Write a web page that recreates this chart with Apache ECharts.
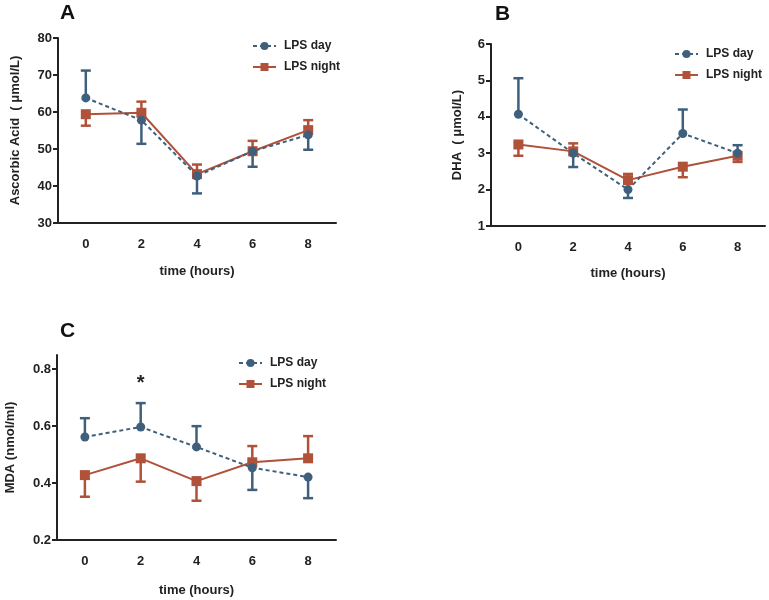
<!DOCTYPE html>
<html><head><meta charset="utf-8">
<script src="https://cdn.jsdelivr.net/npm/echarts@6/dist/echarts.min.js"></script>
<style>html,body{margin:0;padding:0;background:#fff}#c{width:769px;height:600px}</style>
</head><body><div id="c"></div>
<script>
const hours = ['0','2','4','6','8'];
// Panel A: Ascorbic Acid (µmol/L)
const aDay = [63.8, 57.8, 42.7, 49.4, 53.8];
const aDayErr = [71.2, 51.4, 38.0, 45.2, 49.8];
const aNight = [59.4, 59.8, 43.2, 49.4, 55.1];
const aNightErr = [56.3, 62.8, 45.8, 52.2, 57.8];
// Panel B: DHA (µmol/L)
const bDay = [4.07, 3.00, 2.00, 3.54, 3.00];
const bDayErr = [5.06, 2.62, 1.77, 4.20, 3.22];
const bNight = [3.24, 3.05, 2.26, 2.63, 2.93];
const bNightErr = [2.93, 3.27, 2.43, 2.34, 2.76];
// Panel C: MDA (nmol/ml)
const cDay = [0.562, 0.597, 0.527, 0.454, 0.421];
const cDayErr = [0.628, 0.681, 0.600, 0.376, 0.347];
const cNight = [0.428, 0.487, 0.407, 0.473, 0.487];
const cNightErr = [0.352, 0.405, 0.338, 0.530, 0.565];
const starMark = {x: '2', y: 0.765, text: '*'};

const DAY = '#3f607c', NIGHT = '#b0513a';
const FONT = '"Liberation Sans", Arial, sans-serif';

const chart = echarts.init(document.getElementById('c'), null, {renderer: 'canvas'});

function xAxis(idx, gap) {
  return {
    type: 'category', gridIndex: idx, data: hours, boundaryGap: true,
    name: 'time (hours)', nameLocation: 'middle', nameGap: gap,
    nameTextStyle: {fontFamily: FONT, fontWeight: 'bold', fontSize: 13, color: '#222'},
    axisLine: {lineStyle: {color: '#222', width: 2}},
    axisTick: {alignWithLabel: true, length: 5, lineStyle: {color: '#222', width: 2}},
    axisLabel: {fontFamily: FONT, fontWeight: 'bold', fontSize: 13, color: '#222', margin: 15},
    splitLine: {show: false}
  };
}
function yAxis(idx, name, min, max, interval, gap) {
  return {
    type: 'value', gridIndex: idx, min: min, max: max, interval: interval,
    name: name, nameLocation: 'middle', nameGap: gap,
    nameTextStyle: {fontFamily: FONT, fontWeight: 'bold', fontSize: 13, color: '#222'},
    axisLine: {show: true, lineStyle: {color: '#222', width: 2}},
    axisTick: {show: true, length: 5, lineStyle: {color: '#222', width: 2}},
    axisLabel: {fontFamily: FONT, fontWeight: 'bold', fontSize: 13, color: '#222', margin: 6, showMaxLabel: idx !== 2},
    splitLine: {show: false}
  };
}
function lineSeries(name, idx, data, color, dashed, symbol, extra) {
  return Object.assign({
    name: name, type: 'line', xAxisIndex: idx, yAxisIndex: idx, data: data,
    symbol: symbol, symbolSize: symbol === 'circle' ? 9 : 10, showAllSymbol: true,
    lineStyle: {color: color, width: 2, type: dashed ? [4, 3] : 'solid'},
    itemStyle: {color: color}, z: 3, animation: false
  }, extra || {});
}
function errSeries(idx, mean, ends, color) {
  return {
    type: 'custom', xAxisIndex: idx, yAxisIndex: idx, z: 2, animation: false, silent: true,
    data: mean.map((m, i) => [i, m, ends[i]]),
    renderItem: function (params, api) {
      const p0 = api.coord([api.value(0), api.value(1)]);
      const p1 = api.coord([api.value(0), api.value(2)]);
      const hw = 5;
      const st = {stroke: color, lineWidth: 2.5};
      return {type: 'group', children: [
        {type: 'line', shape: {x1: p0[0], y1: p0[1], x2: p1[0], y2: p1[1]}, style: st},
        {type: 'line', shape: {x1: p1[0] - hw, y1: p1[1], x2: p1[0] + hw, y2: p1[1]}, style: st}
      ]};
    }
  };
}
function legend(left, top) {
  return {
    orient: 'vertical', left: left, top: top, itemGap: 9, itemWidth: 23, itemHeight: 10,
    data: ['LPS day', 'LPS night'], selectedMode: false,
    textStyle: {fontFamily: FONT, fontWeight: 'bold', fontSize: 12, color: '#222', padding: [0, 0, 0, 3]}
  };
}

const option = {
  backgroundColor: '#fff',
  animation: false,
  title: [
    {text: 'A', left: 55, top: -2, textStyle: {fontFamily: FONT, fontWeight: 'bold', fontSize: 21, color: '#111'}},
    {text: 'B', left: 490, top: -1, textStyle: {fontFamily: FONT, fontWeight: 'bold', fontSize: 21, color: '#111'}},
    {text: 'C', left: 55, top: 316, textStyle: {fontFamily: FONT, fontWeight: 'bold', fontSize: 21, color: '#111'}}
  ],
  grid: [
    {left: 58, top: 38, width: 278, height: 185},
    {left: 491, top: 44, width: 274, height: 182},
    {left: 57, top: 355, width: 279, height: 185}
  ],
  legend: [legend(247, 35), legend(669, 43), legend(233, 352)],
  xAxis: [xAxis(0, 42), xAxis(1, 41), xAxis(2, 44)],
  yAxis: [
    yAxis(0, 'Ascorbic Acid  ( \u03bcmol/L)', 30, 80, 10, 36),
    yAxis(1, 'DHA  ( \u03bcmol/L)', 1, 6, 1, 27),
    yAxis(2, 'MDA (nmol/ml)', 0.2, 0.85, 0.2, 40)
  ],
  series: [
    errSeries(0, aNight, aNightErr, NIGHT),
    errSeries(0, aDay, aDayErr, DAY),
    lineSeries('LPS night', 0, aNight, NIGHT, false, 'rect'),
    lineSeries('LPS day', 0, aDay, DAY, true, 'circle'),
    errSeries(1, bNight, bNightErr, NIGHT),
    errSeries(1, bDay, bDayErr, DAY),
    lineSeries('LPS night', 1, bNight, NIGHT, false, 'rect'),
    lineSeries('LPS day', 1, bDay, DAY, true, 'circle'),
    errSeries(2, cNight, cNightErr, NIGHT),
    errSeries(2, cDay, cDayErr, DAY),
    lineSeries('LPS night', 2, cNight, NIGHT, false, 'rect'),
    lineSeries('LPS day', 2, cDay, DAY, true, 'circle', {
      markPoint: {
        symbol: 'circle', symbolSize: 0, silent: true,
        label: {show: true, formatter: starMark.text, fontFamily: FONT, fontSize: 20, fontWeight: 'bold', color: '#222', offset: [0, 4]},
        data: [{coord: [starMark.x, starMark.y]}]
      }
    })
  ]
};
chart.setOption(option);
</script></body></html>
